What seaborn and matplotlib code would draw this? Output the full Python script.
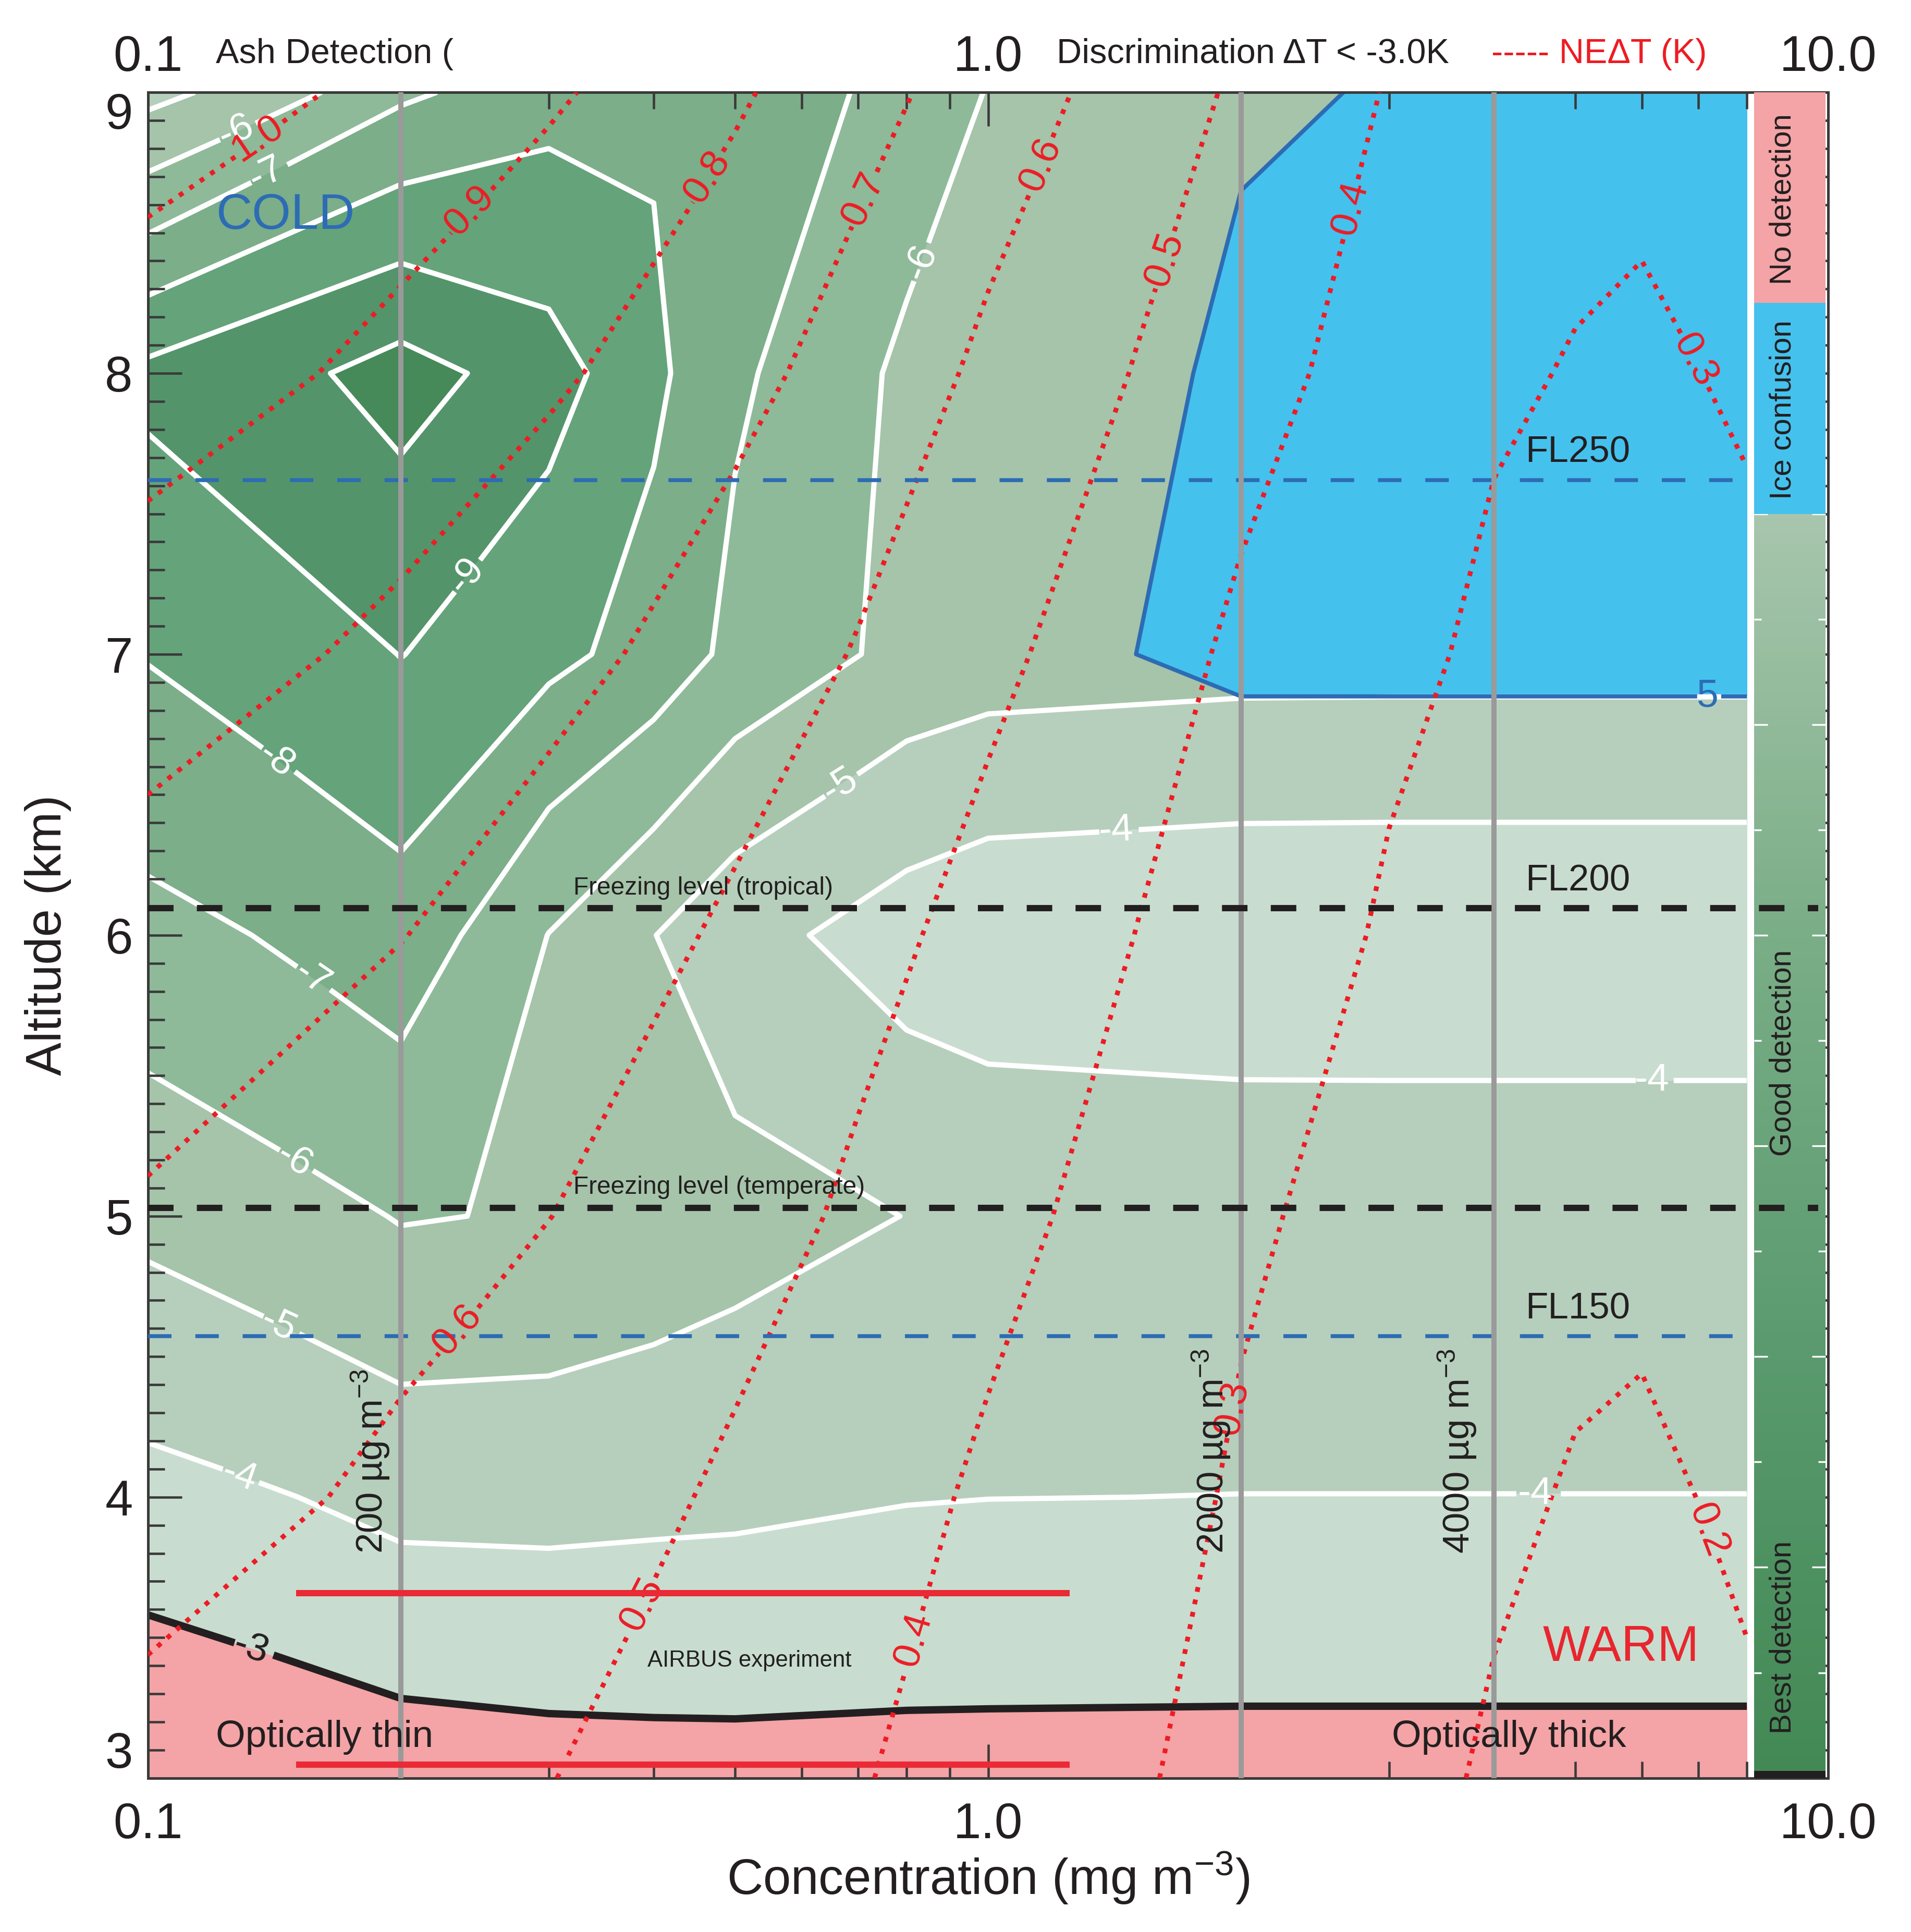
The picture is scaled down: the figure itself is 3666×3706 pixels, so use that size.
import numpy as np
import matplotlib
matplotlib.use("Agg")
import matplotlib.pyplot as plt
import seaborn as sns
from matplotlib.colors import LinearSegmentedColormap
from matplotlib.ticker import LogLocator, NullFormatter, MultipleLocator, NullLocator, FixedLocator
from matplotlib.transforms import blended_transform_factory

# ---------------- data ----------------
altitude_km = [3, 4, 5, 6, 7, 8, 9]
conc_grid = [0.1, 0.2, 0.3, 0.4, 0.5, 0.8, 1.0, 2.0, 3.0, 4.0, 8.0]   # mg m-3

# brightness-temperature discrimination dT (K); rows = altitude, cols = concentration
delta_t = [
    [-2.03, -2.49, -2.61, -2.66, -2.68, -2.67, -2.67, -2.66, -2.66, -2.66, -2.66],
    [-3.70, -4.29, -4.31, -4.24, -4.20, -4.04, -4.01, -3.99, -3.99, -3.99, -3.99],
    [-5.25, -6.06, -5.91, -5.64, -5.39, -4.98, -4.92, -4.84, -4.84, -4.84, -4.84],
    [-6.72, -7.57, -5.98, -5.02, -4.30, -3.50, -3.22, -3.11, -3.10, -3.10, -3.10],
    [-8.05, -9.02, -8.24, -7.60, -6.73, -5.67, -5.48, -5.35, -5.34, -5.34, -5.34],
    [-9.26, -10.40, -9.40, -8.20, -7.15, -5.76, -5.60, -5.50, -5.50, -5.50, -5.50],
    [-4.71, -6.83, -7.65, -7.87, -7.50, -6.69, -5.95, -5.70, -5.70, -5.70, -5.70],
]

# ice-confusion index (region above 5 is confused with ice)
ice_index = [
    [-20, -20, -20, -20, -20, -20, -20, -20, -20, -20, -20],
    [-20, -20, -20, -20, -20, -20, -20, -20, -20, -20, -20],
    [-20, -20, -20, -20, -20, -20, -20, -20, -20, -20, -20],
    [-20, -20, -20, -20, -20, -20, 0.0, -12, -12, -12, -12],
    [-20, -20, -20, -20, -20, -20, 2.0, 8.0, 8.0, 8.0, 8.0],
    [-20, -20, -20, -20, -20, -20, 3.0, 5.65, 8.0, 8.0, 8.0],
    [-20, -20, -20, -20, -20, -20, 3.0, 4.65, 5.19, 8.0, 8.0],
]

conc_ne = [0.1, 0.2, 0.3, 0.5, 0.7, 1.0, 1.5, 2.0, 3.0, 4.0, 5.0, 6.0, 7.0, 8.0]
# noise-equivalent dT (K)
ne_dt = [
    [0.575, 0.529, 0.502, 0.444, 0.405, 0.359, 0.307, 0.272, 0.224, 0.190, 0.169, 0.164, 0.175, 0.188],
    [0.632, 0.582, 0.541, 0.485, 0.436, 0.385, 0.328, 0.290, 0.245, 0.213, 0.194, 0.189, 0.2005, 0.212],
    [0.690, 0.633, 0.601, 0.533, 0.485, 0.426, 0.359, 0.311, 0.266, 0.237, 0.220, 0.214, 0.225, 0.236],
    [0.760, 0.702, 0.652, 0.584, 0.527, 0.467, 0.399, 0.350, 0.289, 0.261, 0.245, 0.240, 0.250, 0.260],
    [0.840, 0.776, 0.726, 0.650, 0.594, 0.520, 0.437, 0.383, 0.318, 0.285, 0.270, 0.265, 0.275, 0.284],
    [0.950, 0.866, 0.813, 0.726, 0.658, 0.580, 0.495, 0.431, 0.356, 0.309, 0.296, 0.290, 0.2995, 0.308],
    [1.040, 0.975, 0.912, 0.812, 0.731, 0.649, 0.553, 0.483, 0.393, 0.333, 0.321, 0.315, 0.324, 0.332],
]

dt_levels = [-11, -10, -9, -8, -7, -6, -5, -4, -3, 0]
dt_line_levels = [-10, -9, -8, -7, -6, -5, -4]
ne_levels = [0.2, 0.3, 0.4, 0.5, 0.6, 0.7, 0.8, 0.9, 1.0]

flight_levels = {"FL150": 4.572, "FL200": 6.096, "FL250": 7.62}
freezing_levels = {"Freezing level (tropical)": 6.096, "Freezing level (temperate)": 5.03}
mass_lines_ugm3 = [200, 2000, 4000]
airbus_alt_km = [3.048, 3.6576]
airbus_conc = [0.15, 1.25]
x_ticks = [0.1, 1.0, 10.0]
x_tick_labels = ["0.1", "1.0", "10.0"]

# colorbar classes (altitude bounds in the key strip)
key_bounds = {"No detection": (8.25, 9.0), "Ice confusion": (7.5, 8.25), "green": (3.0, 7.5)}

# ---------------- style ----------------
sns.set_theme(style="white")
plt.rcParams["font.family"] = ["Liberation Sans", "DejaVu Sans"]
plt.rcParams["mathtext.fontset"] = "custom"
plt.rcParams["mathtext.rm"] = "Liberation Sans"
plt.rcParams["mathtext.it"] = "Liberation Sans:italic"
plt.rcParams["mathtext.bf"] = "Liberation Sans:bold"
plt.rcParams["axes.unicode_minus"] = False
plt.rcParams["contour.negative_linestyle"] = "solid"

INK = "#231f20"
PINK = "#f4a3a6"
ICE = "#45c1ee"
BLUE = "#2d6cb4"
RED = "#ed1c24"
dt_colors = ["#458a58", "#54946a", "#65a37b", "#7bae89", "#8eba99",
             "#a5c4aa", "#b6cfbc", "#c8ddd0", PINK]

fig = plt.figure(figsize=(3666 / 300, 3706 / 300), dpi=300)
ax = fig.add_axes([0.0774, 0.0797, 0.8793, 0.8725])
ax.set_xscale("log")
ax.set_axisbelow(False)

Xd, Yd = np.meshgrid(conc_grid, altitude_km)
Zdt = np.array(delta_t)
Zice = np.array(ice_index, dtype=float)
Xn, Yn = np.meshgrid(conc_ne, altitude_km)
Zne = np.array(ne_dt)

# filled discrimination field
ax.contourf(Xd, Yd, Zdt, levels=dt_levels, colors=dt_colors, zorder=1)
# ice confusion region
ax.contourf(Xd, Yd, Zice, levels=[5, 50], colors=[ICE], zorder=1.5)

cs_w = ax.contour(Xd, Yd, Zdt, levels=dt_line_levels, colors="white",
                  linewidths=2.4, linestyles="solid", zorder=2)
cs_b = ax.contour(Xd, Yd, Zdt, levels=[-3], colors=INK, linewidths=3.4,
                  linestyles="solid", zorder=2.2)
cs_ice = ax.contour(Xd, Yd, Zice, levels=[5], colors=BLUE, linewidths=1.9,
                    linestyles="solid", zorder=2.3)
cs_ne = ax.contour(Xn, Yn, Zne, levels=ne_levels, colors=RED, linewidths=2.2,
                   linestyles="dotted", zorder=3)

fmt_int = lambda v: f"{v:.0f}"
ax.clabel(cs_w, manual=[(0.127, 8.87), (0.138, 8.72), (0.237, 7.29), (0.1426, 6.63),
                        (0.158, 5.86), (0.15, 5.21), (0.143, 4.61), (0.129, 4.09),
                        (0.826, 8.40), (0.664, 6.54), (1.42, 6.38), (6.17, 5.49),
                        (4.48, 4.01)],
          fmt=fmt_int, fontsize=18, colors="white", inline=True, inline_spacing=6)
ax.clabel(cs_b, manual=[(0.133, 3.47)], fmt=fmt_int, fontsize=18, colors=INK,
          inline=True, inline_spacing=6)
ax.clabel(cs_ice, manual=[(7.18, 6.85)], fmt=lambda v: "5", fontsize=18, colors=BLUE,
          inline=True, inline_spacing=6)
ax.clabel(cs_ne, manual=[(0.136, 8.82), (0.243, 8.57), (0.457, 8.71), (0.70, 8.63),
                         (1.12, 8.76), (1.6, 8.41), (2.6, 8.6), (7.06, 8.06),
                         (0.234, 4.59), (0.38, 3.63), (0.80, 3.50), (1.86, 4.33),
                         (7.3, 3.89)],
          fmt="%.1f", fontsize=18, colors=RED, inline=True, inline_spacing=6)

# reference lines
for name, alt in flight_levels.items():
    if name == "FL200":
        continue
    ax.axhline(alt, xmin=0, xmax=0.954, color=BLUE, lw=1.8, dashes=(6.0, 6.1), zorder=4)
for name, alt in freezing_levels.items():
    ax.axhline(alt, xmin=0, xmax=0.994, color=INK, lw=2.9, dashes=(4.05, 3.7), zorder=6)
for m in mass_lines_ugm3:
    ax.axvline(m / 1000.0, color="#9a9a9a", lw=2.4, zorder=4.5)
ax.hlines(airbus_alt_km, airbus_conc[0], airbus_conc[1], color="#ea2a35", lw=2.9, zorder=5)

# texts
for name, alt in flight_levels.items():
    ax.text(4.36, alt + 0.035, name, fontsize=17, color=INK, ha="left", va="bottom", zorder=7)
for name, alt in freezing_levels.items():
    ax.text(0.321, alt + 0.03, name, fontsize=11.5, color=INK, ha="left", va="bottom", zorder=7)
for m, xc in zip(mass_lines_ugm3, [0.184, 1.843, 3.62]):
    ax.text(xc, 3.80, f"{m} µg m$^{{-3}}$", rotation=90, fontsize=17, color=INK,
            ha="center", va="bottom", zorder=7)
ax.text(0.1204, 8.56, "COLD", fontsize=23, color=BLUE, ha="left", va="center", zorder=7)
ax.text(5.67, 3.465, "WARM", fontsize=23, color="#e8262e", ha="center", va="center", zorder=7)
ax.text(0.1204, 3.145, "Optically thin", fontsize=17.5, color=INK, ha="left", va="center", zorder=7)
ax.text(4.17, 3.145, "Optically thick", fontsize=17.5, color=INK, ha="center", va="center", zorder=7)
ax.text(0.52, 3.417, "AIRBUS experiment", fontsize=10.5, color=INK, ha="center", va="center", zorder=7)

trans = blended_transform_factory(ax.transData, ax.transAxes)
ax.text(0.1204, 1.0227, "Ash Detection (", transform=trans, fontsize=16, color=INK,
        ha="left", va="center")
ax.text(1.206, 1.0227, "Discrimination ΔT < -3.0K", transform=trans, fontsize=16, color=INK,
        ha="left", va="center")
ax.text(3.97, 1.0227, "----- NEΔT (K)", transform=trans, fontsize=16, color=RED,
        ha="left", va="center")

# axes / ticks
ax.set_xlim(0.1, 10)
ax.set_ylim(3, 9)
ax.set_xticks(x_ticks)
ax.set_xticklabels(x_tick_labels)
ax.xaxis.set_minor_locator(LogLocator(base=10, subs=tuple(range(2, 10))))
ax.xaxis.set_minor_formatter(NullFormatter())
ax.set_yticks(altitude_km)
ax.set_yticklabels([str(a) for a in altitude_km])
ax.yaxis.set_minor_locator(MultipleLocator(0.1))
ax.tick_params(axis="both", which="both", direction="in", top=True, bottom=True,
               left=True, right=True, color="#3a3a3a", width=1.1)
ax.tick_params(axis="both", which="major", length=15.5, labelsize=23, labelcolor=INK)
ax.tick_params(axis="both", which="minor", length=7.6)
ax.tick_params(axis="x", which="major", pad=11)
ax.tick_params(axis="y", which="major", pad=7)
for t in ax.yaxis.get_major_ticks():
    if t.get_loc() == 9:
        t.label1.set_verticalalignment("top")
    elif t.get_loc() == 3:
        t.label1.set_verticalalignment("bottom")
for s in ax.spines.values():
    s.set_color("#3a3a3a")
    s.set_linewidth(1.2)

secax = ax.secondary_xaxis("top")
secax.set_xticks(x_ticks)
secax.set_xticklabels(x_tick_labels)
secax.xaxis.set_minor_locator(NullLocator())
secax.tick_params(axis="x", which="both", length=0, pad=5, labelsize=23, labelcolor=INK)
secax.spines["top"].set_visible(False)

ax.set_ylabel("Altitude (km)", fontsize=23, color=INK)
ax.yaxis.set_label_coords(-0.0455, 0.5)
ax.set_xlabel("Concentration (mg m$^{-3}$)", fontsize=23, color=INK)
ax.xaxis.set_label_coords(0.5, -0.043)

# detection key strip (colour bar inside the axes)
cax = ax.inset_axes([0.956, 0.0, 0.0425, 1.0])
green_cmap = LinearSegmentedColormap.from_list(
    "detect", ["#438955", "#5a9a6e", "#7aae87", "#a8c6ad"])
lo, hi = key_bounds["green"]
cax.imshow(np.linspace(0, 1, 256).reshape(-1, 1), extent=[0, 1, lo, hi],
           aspect="auto", cmap=green_cmap, origin="lower")
cax.axhspan(*key_bounds["No detection"], color=PINK, lw=0)
cax.axhspan(*key_bounds["Ice confusion"], color=ICE, lw=0)
cax.axhspan(3.0, 3.025, color=INK, lw=0)
cax.set_xlim(0, 1)
cax.set_ylim(3, 9)
for s in cax.spines.values():
    s.set_visible(False)
cax.set_xticks([])
cax.set_yticks([9 - 0.375 * k for k in range(2, 16, 2)])
cax.yaxis.set_minor_locator(FixedLocator([9 - 0.375 * k for k in range(1, 16, 2)]))
cax.tick_params(axis="y", which="both", direction="in", left=True, right=True,
                labelleft=False, labelright=False, color="white", width=0.8)
cax.tick_params(axis="y", which="major", length=6.2)
cax.tick_params(axis="y", which="minor", length=3.3)
for label, yc in [("No detection", 8.62), ("Ice confusion", 7.87),
                  ("Good detection", 5.58), ("Best detection", 3.5)]:
    cax.text(0.40, yc, label, rotation=90, fontsize=14, color=INK, ha="center", va="center")

fig.savefig("out.png", dpi=300)
